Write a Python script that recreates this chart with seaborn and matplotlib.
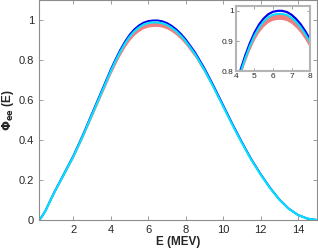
import seaborn as sns
import matplotlib.pyplot as plt
import pandas as pd
import numpy as np

# energy grid (MeV) and normalised spectra
energy = [0.15, 0.25, 0.5, 0.75, 1, 1.5, 2, 2.5, 3, 3.5, 4, 4.25, 4.5, 4.75, 5,
          5.25, 5.5, 5.75, 6, 6.25, 6.5, 6.75, 7, 7.25, 7.5, 7.75, 8, 8.5, 9,
          9.5, 10, 10.5, 11, 11.5, 12, 12.5, 13, 13.5, 14, 14.5, 15]
phi_blue = [0, 0.008, 0.045, 0.095, 0.143, 0.232, 0.322, 0.425, 0.535, 0.645, 0.755,
            0.805, 0.852, 0.893, 0.928, 0.955, 0.975, 0.989, 0.997, 1.0, 1.0, 0.996,
            0.987, 0.973, 0.955, 0.932, 0.905, 0.84, 0.76, 0.67, 0.575, 0.48, 0.39,
            0.305, 0.23, 0.162, 0.103, 0.057, 0.025, 0.007, 0]
phi_cyan = [0, 0.0079, 0.0446, 0.0941, 0.1416, 0.2297, 0.3188, 0.4208, 0.5297, 0.6386,
            0.7475, 0.797, 0.8435, 0.8841, 0.9187, 0.9455, 0.9653, 0.9791, 0.987,
            0.99, 0.99, 0.986, 0.9771, 0.9633, 0.9455, 0.9227, 0.896, 0.8316, 0.7524,
            0.6633, 0.5693, 0.4752, 0.3861, 0.302, 0.2277, 0.1604, 0.102, 0.0564,
            0.0248, 0.0069, 0]
band_lo = [0, 0.0078, 0.0437, 0.0922, 0.1387, 0.225, 0.3123, 0.4123, 0.519, 0.6257,
           0.7324, 0.7809, 0.8264, 0.8662, 0.9002, 0.9264, 0.9458, 0.9593, 0.9671,
           0.97, 0.97, 0.9661, 0.9574, 0.9438, 0.9264, 0.904, 0.8779, 0.8148, 0.7372,
           0.6499, 0.5578, 0.4656, 0.3783, 0.2959, 0.2231, 0.1571, 0.0999, 0.0553,
           0.0243, 0.0068, 0]

df = pd.DataFrame({"E": energy, "blue": phi_blue, "cyan": phi_cyan, "lo": band_lo})

sns.set_style("ticks")
plt.rcParams['font.family'] = ['Liberation Sans', 'DejaVu Sans']

spine_col = "#8c8c8c"
text_col = "#262626"


def draw(ax, lw_blue, lw_cyan):
    sns.lineplot(data=df, x="E", y="blue", ax=ax, color="#0000ee", linewidth=lw_blue)
    ax.fill_between(df["E"], df["lo"], df["cyan"], color="#f08080", linewidth=0)
    sns.lineplot(data=df, x="E", y="cyan", ax=ax, color="#00e5ff", linewidth=lw_cyan)
    for s in ax.spines.values():
        s.set_color(spine_col)
    ax.tick_params(direction="in", top=True, right=True, color=spine_col,
                   labelcolor=text_col)
    ax.set_xlabel("")
    ax.set_ylabel("")


fig = plt.figure(figsize=(3.18, 2.48), dpi=100)
ax1 = fig.add_axes([0.122, 0.113, 0.874, 0.885])
draw(ax1, 1.4, 1.5)
ax1.set_xlim(0.15, 15)
ax1.set_ylim(0, 1.1)
ax1.set_xticks([2, 4, 6, 8, 10, 12, 14])
ax1.set_yticks([0, 0.2, 0.4, 0.6, 0.8, 1])
ax1.set_yticklabels(["0", "0.2", "0.4", "0.6", "0.8", "1"])
ax1.tick_params(labelsize=8, length=3, width=0.6)
ax1.set_xlabel("E (MEV)", fontsize=8.5, fontweight="bold", color=text_col, labelpad=1)
ax1.set_ylabel(r"$\mathbf{\Phi_{ee}}$ (E)", fontsize=8.5, fontweight="bold",
               color=text_col, labelpad=2)

ax2 = fig.add_axes([0.742, 0.7125, 0.233, 0.2645])
draw(ax2, 1.6, 1.4)
ax2.set_xlim(4, 8)
ax2.set_ylim(0.8, 1.017)
ax2.set_xticks([4, 5, 6, 7, 8])
ax2.set_yticks([0.8, 0.9, 1])
ax2.set_yticklabels(["0.8", "0.9", "1"])
ax2.tick_params(labelsize=6, length=2, width=0.6, pad=1.5)
for s in ax2.spines.values():
    s.set_linewidth(1.5)
    s.set_color("#b4b4b4")

fig.savefig("out.png", dpi=100)
